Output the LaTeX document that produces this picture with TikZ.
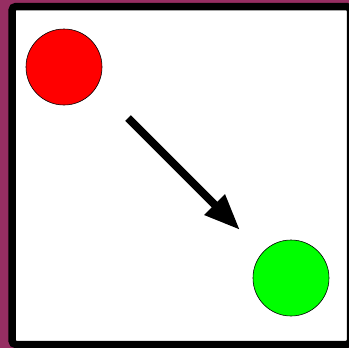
\documentclass[tikz,border=0pt]{standalone}
\usepackage{tikz}
\usepackage{xcolor}
\usetikzlibrary{arrows.meta,positioning}
\definecolor{plum}{RGB}{150,46,98}

\begin{document}
\begin{tikzpicture}[x=1pt, y=-1pt]
  \tikzstyle{ball}=[circle, draw=black, line width=0.6pt, minimum size=76pt, inner sep=0pt]
  \tikzstyle{move}=[-{Triangle[length=36pt, width=27pt]}, line width=8pt]
  \useasboundingbox (0,0) rectangle (349,348);
  \clip (0,0) rectangle (349,348);
  \fill[plum] (0,0) rectangle (349,348);
  \draw[line width=7.5pt, rounded corners=4pt, fill=white] (12,6.5) rectangle (350.5,344.5);
  \node[ball, fill=red] (start) at (64,67) {};
  \node[ball, fill=green] (goal) at (291,278) {};
  \coordinate (tail) at ([shift={(64,51)}]start.center);
  \coordinate (tip) at ([shift={(-51,-48)}]goal.center);
  \draw[move] (tail) -- (tip);
\end{tikzpicture}
\end{document}
